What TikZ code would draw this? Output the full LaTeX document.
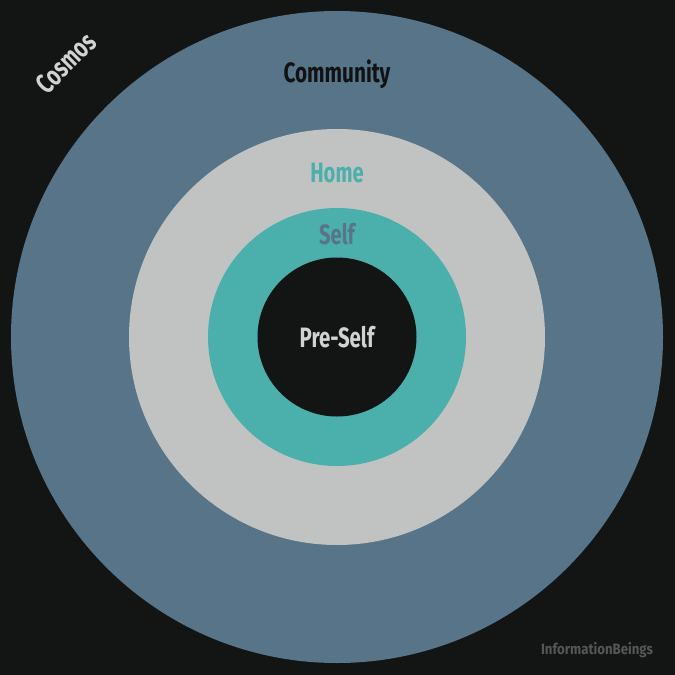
\documentclass[tikz,border=0pt]{standalone}
\usepackage{fontspec}
\setmainfont{Fira Sans}
\usepackage{xcolor}
\definecolor{night}{HTML}{131515}
\definecolor{slate}{HTML}{577488}
\definecolor{fog}{HTML}{C0C3C2}
\definecolor{lagoon}{HTML}{4BAFAC}
\definecolor{chalk}{HTML}{D2D2D2}
\definecolor{ink}{HTML}{101214}
\definecolor{smoke}{HTML}{555757}
\usetikzlibrary{positioning}

\begin{document}
\begin{tikzpicture}[x=1pt,y=-1pt,
  ring/.style={inner sep=0pt, font=\bfseries\fontsize{28}{28}\selectfont},
  brandtext/.style={inner sep=0pt, font=\bfseries\fontsize{15}{15}\selectfont}]
\fill[night] (0,0) rectangle (675,675);
\fill[slate] (337,337) circle [radius=326];
\fill[fog] (337,337) circle [radius=208];
\fill[lagoon] (337,337) circle [radius=129];
\fill[night] (337,337) circle [radius=79.5];

\node[ring, text=chalk, rotate=45] (cosmos) at (66,63) {\scalebox{0.72}[1]{Cosmos}};
\node[ring, text=ink] (community) at (337,74) {\scalebox{0.74}[1]{Community}};
\node[ring, text=lagoon] (home) at (337,173) {\scalebox{0.72}[1]{Home}};
\node[ring, text=slate] (self) at (337,234) {\scalebox{0.72}[1]{Self}};
\node[ring, text=chalk] (preself) at (337,337) {\scalebox{0.73}[1]{Pre-Self}};

\node[brandtext, text=smoke] (brand) at (597,650) {\scalebox{0.88}[1]{InformationBeings}};
\end{tikzpicture}
\end{document}
